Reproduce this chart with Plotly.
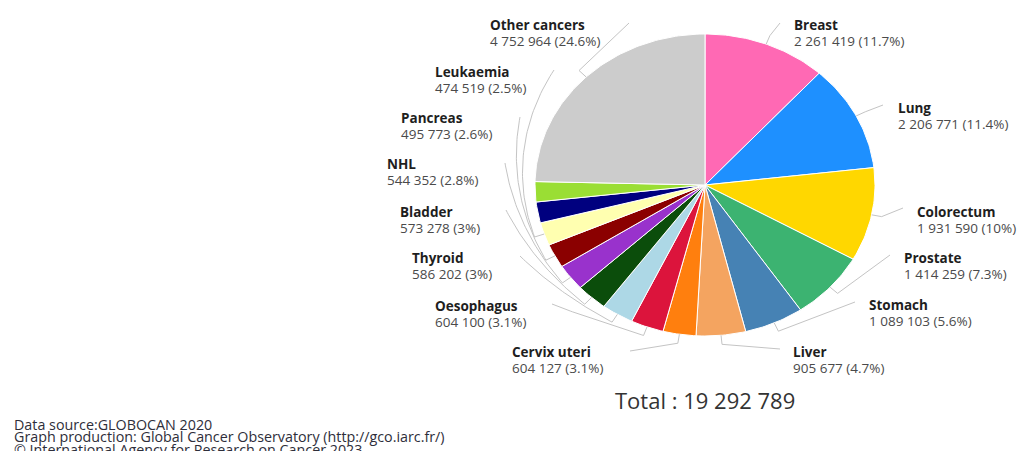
import math
import numpy as np
import plotly.graph_objects as go

# New cancer cases, both sexes, all ages (GLOBOCAN 2020)
categories = ["Breast", "Lung", "Colorectum", "Prostate", "Stomach", "Liver",
              "Cervix uteri", "Oesophagus", "Thyroid", "Bladder", "NHL",
              "Pancreas", "Leukaemia", "Kidney", "Corpus uteri", "Other cancers"]
values = [2261419, 2206771, 1931590, 1414259, 1089103, 905677,
          604127, 604100, 586202, 573278, 544352,
          495773, 474519, 431288, 417367, 4752964]
colors = ["#FF69B4", "#1E90FF", "#FFD700", "#3CB371", "#4682B4", "#F4A460",
          "#FF7F0E", "#DC143C", "#ADD8E6", "#0B4D0B", "#9932CC",
          "#8B0000", "#FFFFB0", "#00007F", "#9ADE34", "#CCCCCC"]

# Slices that carry a label
labelled = ["Breast", "Lung", "Colorectum", "Prostate", "Stomach", "Liver",
            "Cervix uteri", "Oesophagus", "Thyroid", "Bladder", "NHL",
            "Pancreas", "Leukaemia", "Other cancers"]

# ---- layout (pixel space) ----
W, H = 1029, 451
CX, CY = 705, 185          # pie centre
RX, RY = 170, 151          # pie radii

# label left edge and centre of its first line
label_xy = {
    "Breast": (792, 25), "Lung": (896, 108), "Colorectum": (915, 212),
    "Prostate": (902, 258), "Stomach": (867, 305), "Liver": (791, 352),
    "Cervix uteri": (510, 352), "Oesophagus": (433, 306), "Thyroid": (410, 258),
    "Bladder": (398, 212), "NHL": (385, 164), "Pancreas": (399, 118),
    "Leukaemia": (433, 72), "Other cancers": (488, 25),
}
# where each connector ends next to its label
conn_end = {
    "Breast": (780, 23), "Lung": (883, 105), "Colorectum": (903, 208),
    "Prostate": (890, 255), "Stomach": (855, 302), "Liver": (780, 349),
    "Cervix uteri": (630, 351), "Oesophagus": (552, 304), "Thyroid": (520, 256),
    "Bladder": (506, 210), "NHL": (505, 163), "Pancreas": (520, 117),
    "Leukaemia": (554, 70), "Other cancers": (629, 23),
}


def pt(theta_deg, r=1.0):
    t = math.radians(theta_deg)
    return CX + r * RX * math.sin(t), CY - r * RY * math.cos(t)


def fmt_num(v):
    return f"{v:,}".replace(",", " ")


def fmt_pct(p):
    s = f"{p:.1f}"
    return s[:-2] if s.endswith(".0") else s


total = sum(values)
fig = go.Figure()

start = 0.0
mids = {}
for name, v, c in zip(categories, values, colors):
    span = v / total * 360.0
    a0, a1 = start, start + span
    n = max(3, int(span) + 2)
    th = np.linspace(a0, a1, n)
    xs = [CX] + [pt(t)[0] for t in th] + [CX]
    ys = [CY] + [pt(t)[1] for t in th] + [CY]
    fig.add_trace(go.Scatter(x=xs, y=ys, mode="lines", fill="toself",
                             fillcolor=c, line=dict(color="white", width=1),
                             hoverinfo="skip", showlegend=False))
    mids[name] = (a0 + a1) / 2
    start = a1

# connectors: short radial stub, then either a straight run or a curve
# that wraps around the pie to reach the label
for name in labelled:
    m = mids[name]
    ex, ey = conn_end[name]
    nx, ny = (ex - CX) / RX, (CY - ey) / RY
    ta = math.degrees(math.atan2(nx, ny)) % 360
    ra = math.hypot(nx, ny)
    d = (ta - m + 180) % 360 - 180
    rk = 1.06
    x0, y0 = pt(m, 1.0)
    xk, yk = pt(m, rk)
    xs, ys = [x0, xk], [y0, yk]
    if abs(d) < 25:
        xs.append(ex)
        ys.append(ey)
    else:
        for s in np.linspace(0, 1, 50)[1:]:
            x, y = pt(m + d * s, rk + (ra - rk) * s ** 2)
            xs.append(x)
            ys.append(y)
    fig.add_trace(go.Scatter(x=xs, y=ys, mode="lines",
                             line=dict(color="#C4C4C4", width=1),
                             hoverinfo="skip", showlegend=False))

# labels
for name in labelled:
    v = values[categories.index(name)]
    lx, ly = label_xy[name]
    fig.add_annotation(x=lx, y=ly, text=f"<b>{name}</b>", showarrow=False,
                       xanchor="left", yanchor="middle",
                       font=dict(family="Open Sans", size=13.5, color="#1E1E1E"))
    fig.add_annotation(x=lx, y=ly + 16,
                       text=f"{fmt_num(v)} ({fmt_pct(v / total * 100)}%)",
                       showarrow=False, xanchor="left", yanchor="middle",
                       font=dict(family="Open Sans", size=13.5, color="#4A4A4A"))

fig.add_annotation(x=CX, y=400, text=f"Total : {fmt_num(total)}", showarrow=False,
                   xanchor="center", yanchor="middle",
                   font=dict(family="Open Sans", size=22, color="#333333"))

footer = ["Data source:GLOBOCAN 2020",
          "Graph production: Global Cancer Observatory (http://gco.iarc.fr/)",
          "© International Agency for Research on Cancer 2023"]
for i, line in enumerate(footer):
    fig.add_annotation(x=12, y=424 + 12.5 * i, text=line, showarrow=False,
                       xanchor="left", yanchor="middle",
                       font=dict(family="Open Sans", size=14.3, color="#2E2E3A"))

fig.update_layout(
    width=W, height=H, margin=dict(l=0, r=0, t=0, b=0),
    paper_bgcolor="white", plot_bgcolor="white",
    xaxis=dict(range=[0, W], visible=False, fixedrange=True),
    yaxis=dict(range=[H, 0], visible=False, fixedrange=True),
    showlegend=False,
)

fig.write_html("out.html", config={"displayModeBar": False})
